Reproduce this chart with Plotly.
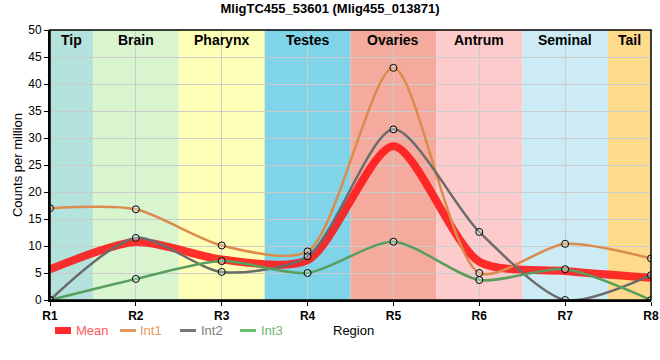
import plotly.graph_objects as go

regions = ["R1", "R2", "R3", "R4", "R5", "R6", "R7", "R8"]
x_pos = [1, 2, 3, 4, 5, 6, 7, 8]
int1 = [17.0, 16.8, 10.1, 9.0, 43.0, 5.0, 10.4, 7.7]
int2 = [0.0, 11.5, 5.2, 8.1, 31.6, 12.6, 0.0, 4.6]
int3 = [0.0, 3.9, 7.2, 5.0, 10.8, 3.7, 5.7, 0.0]
mean = [round((a + b + c) / 3, 2) for a, b, c in zip(int1, int2, int3)]

band_names = ["Tip", "Brain", "Pharynx", "Testes", "Ovaries", "Antrum", "Seminal", "Tail"]
band_start = [1.0, 1.5, 2.5, 3.5, 4.5, 5.5, 6.5, 7.5]
band_end = [1.5, 2.5, 3.5, 4.5, 5.5, 6.5, 7.5, 8.0]
band_colors = ["#b4e2dd", "#d8f5d0", "#feffb6", "#80d4ea", "#f4ab9e", "#fdcbcc", "#cdebf4", "#fdda8c"]

W, H = 660, 360
ML, MR, MT, MB = 50, 9, 30, 60
PW, PH = W - ML - MR, H - MT - MB


def px_x(p):
    return (p - ML) / PW


def px_y(p):
    return (H - MB - p) / PH


fig = go.Figure()

for s, e, c, n in zip(band_start, band_end, band_colors, band_names):
    fig.add_shape(type="rect", xref="x", yref="paper", x0=s, x1=e, y0=0, y1=1,
                  fillcolor=c, line_width=0, layer="below")
    fig.add_annotation(x=(s + e) / 2, y=1, xref="x", yref="paper", text="<b>" + n + "</b>",
                       showarrow=False, yanchor="top", yshift=0,
                       font=dict(size=14, color="black", family="Liberation Sans, Arial"))

SM = 0.75
fig.add_trace(go.Scatter(
    x=x_pos, y=mean, mode="lines", name="Mean", showlegend=False,
    line=dict(color="rgba(255,20,20,0.88)", width=8, shape="spline", smoothing=SM),
))

series = [("Int1", int1, "#db8b4b", "#e39a60"),
          ("Int2", int2, "#6b6b6b", "#808080"),
          ("Int3", int3, "#5a9e5e", "#74b874")]
for name, vals, col, tcol in series:
    fig.add_trace(go.Scatter(
        x=x_pos, y=vals, mode="lines", name=name, showlegend=False,
        line=dict(color=col, width=2.5, shape="spline", smoothing=SM),
    ))
for name, vals, col, tcol in series:
    fig.add_trace(go.Scatter(
        x=x_pos, y=vals, mode="markers", showlegend=False, name=name,
        marker=dict(symbol="circle", size=7, color="rgba(220,245,250,0.35)",
                    line=dict(color="black", width=1)),
    ))

# custom legend (line symbols + coloured labels)
LY = 330.5
legend_items = [("Mean", "#ff2a2a", "#ff5a5a", 55, 71, 74, 7),
                ("Int1", "#e09a5e", "#e39a60", 120, 136, 138, 3),
                ("Int2", "#777777", "#808080", 180, 196, 199, 3),
                ("Int3", "#6cbf6c", "#74b874", 240, 256, 259, 3)]
for label, lcol, tcol, x0, x1, tx, lw in legend_items:
    fig.add_shape(type="line", xref="paper", yref="paper", x0=px_x(x0), x1=px_x(x1),
                  y0=px_y(LY), y1=px_y(LY), line=dict(color=lcol, width=lw))
    fig.add_annotation(x=px_x(tx), y=px_y(LY), xref="paper", yref="paper", text=label,
                       showarrow=False, xanchor="left", yanchor="middle",
                       font=dict(size=13, color=tcol))

fig.add_annotation(x=px_x(331), y=px_y(LY), xref="paper", yref="paper", text="Region",
                   showarrow=False, xanchor="left", yanchor="middle",
                   font=dict(size=13, color="black"))

fig.update_layout(
    width=W, height=H,
    margin=dict(l=ML, r=MR, t=MT, b=MB, autoexpand=False, pad=0),
    paper_bgcolor="white", plot_bgcolor="white",
    font=dict(family="Liberation Sans, Arial", size=12, color="black"),
    title=dict(text="<b>MligTC455_53601 (Mlig455_013871)</b>", x=0.5, xanchor="center",
               y=0.988, yanchor="top", font=dict(size=13)),
    showlegend=False,
    xaxis=dict(range=[1, 8], tickmode="array", tickvals=x_pos,
               ticktext=["<b>" + r + "</b>" for r in regions],
               showgrid=True, gridcolor="#cccccc", gridwidth=1,
               showline=True, linecolor="black", linewidth=2, mirror=False,
               ticks="outside", ticklen=4, tickcolor="black", zeroline=False,
               tickfont=dict(size=12)),
    yaxis=dict(range=[0, 50], dtick=5, showgrid=True, gridcolor="#cccccc", gridwidth=1,
               showline=True, linecolor="black", linewidth=2, ticks="outside", ticklen=4,
               tickcolor="black", zeroline=False,
               title=dict(text="Counts per million", font=dict(size=13), standoff=3)),
)

fig.add_shape(type="rect", xref="paper", yref="paper", x0=0, x1=1, y0=0, y1=1,
              line=dict(color="black", width=1.5), fillcolor="rgba(0,0,0,0)", layer="above")

fig.write_html("out.html", config={"displayModeBar": False},
               post_script="document.body.style.margin='0';document.body.style.overflow='hidden';")
